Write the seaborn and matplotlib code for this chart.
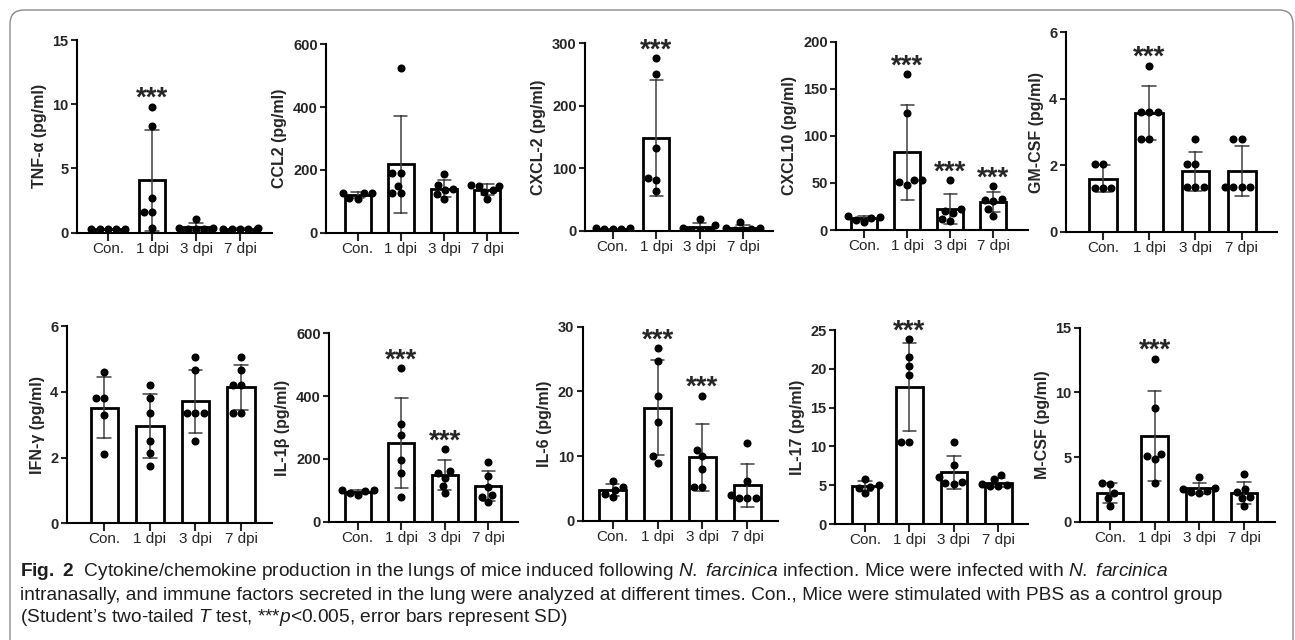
import warnings
warnings.filterwarnings("ignore")
import numpy as np
import pandas as pd
import matplotlib
matplotlib.use("Agg")
import matplotlib.pyplot as plt
from matplotlib import font_manager
from matplotlib.patches import FancyBboxPatch
from matplotlib.transforms import IdentityTransform
import seaborn as sns

# ---------------- data ----------------
groups = ["Con.", "1 dpi", "3 dpi", "7 dpi"]

tnf_a = [[0.30, 0.28, 0.30, 0.27, 0.30], [9.8, 8.3, 2.7, 1.6, 1.6, 0.4],
         [1.1, 0.40, 0.35, 0.30, 0.30, 0.25], [0.36, 0.32, 0.30, 0.30, 0.28, 0.30]]
ccl2 = [[127, 127, 125, 110, 108], [526, 190, 190, 149, 125, 125],
        [186, 152, 140, 136, 122, 106], [152, 150, 150, 135, 130, 106]]
cxcl2 = [[3, 4, 3, 4, 3], [277, 251, 133, 84, 81, 64],
         [19, 9, 5, 2, 2, 1], [14, 5, 4, 3, 2, 2]]
cxcl10 = [[15, 14, 13, 11, 9], [166, 124, 53, 53, 51, 48],
          [53, 22, 20, 18, 12, 10], [47, 33, 32, 31, 22, 15]]
gm_csf = [[2.05, 2.05, 1.3, 1.3, 1.3], [5.0, 3.6, 3.6, 3.6, 2.8, 2.8],
          [2.8, 2.05, 2.05, 1.35, 1.35, 1.35], [2.8, 2.8, 1.35, 1.35, 1.35, 1.35]]
ifn_g = [[4.6, 3.8, 3.8, 3.3, 2.1], [4.2, 3.8, 3.35, 2.5, 2.15, 1.75],
         [5.05, 4.65, 3.35, 3.35, 3.35, 2.5], [5.05, 4.65, 4.2, 4.2, 3.35, 3.35]]
il_1b = [[100, 100, 97, 92, 85], [490, 310, 276, 197, 154, 80],
         [232, 160, 155, 140, 115, 90], [190, 145, 112, 85, 80, 62]]
il_6 = [[6.1, 5.2, 4.8, 4.2, 3.6], [26.7, 24.7, 19.3, 15.2, 10.0, 9.0],
        [19.3, 11.0, 10.0, 8.0, 5.2, 5.2], [12.0, 6.2, 4.0, 3.5, 3.5, 3.5]]
il_17 = [[5.8, 5.0, 4.8, 4.7, 4.0], [23.8, 21.5, 20.3, 19.2, 10.6, 10.6],
         [10.6, 7.6, 6.0, 5.4, 5.3, 5.2], [6.3, 5.8, 5.1, 5.0, 4.9, 4.9]]
m_csf = [[3.0, 2.9, 2.2, 1.8, 1.2], [12.6, 8.8, 5.25, 5.1, 4.85, 3.0],
         [3.45, 2.6, 2.5, 2.4, 2.3, 2.2], [3.7, 2.5, 2.3, 1.9, 1.8, 1.2]]

panel_data = [tnf_a, ccl2, cxcl2, cxcl10, gm_csf, ifn_g, il_1b, il_6, il_17, m_csf]
y_labels = ["TNF-α (pg/ml)", "CCL2 (pg/ml)", "CXCL-2 (pg/ml)", "CXCL10 (pg/ml)",
            "GM-CSF (pg/ml)", "IFN-γ (pg/ml)", "IL-1β (pg/ml)", "IL-6 (pg/ml)",
            "IL-17 (pg/ml)", "M-CSF (pg/ml)"]
y_max = [15, 600, 300, 200, 6, 6, 600, 30, 25, 15]
y_step = [5, 200, 100, 50, 2, 2, 200, 10, 5, 5]
significance = [["", "***", "", ""], ["", "", "", ""], ["", "***", "", ""],
                ["", "***", "***", "***"], ["", "***", "", ""], ["", "", "", ""],
                ["", "***", "***", ""], ["", "***", "***", ""], ["", "***", "", ""],
                ["", "***", "", ""]]

caption_lines = [
    r"$\bf{Fig.\ 2}$  Cytokine/chemokine production in the lungs of mice induced following "
    r"$\it{N.\ farcinica}$ infection. Mice were infected with $\it{N.\ farcinica}$",
    "intranasally, and immune factors secreted in the lung were analyzed at different times. "
    "Con., Mice were stimulated with PBS as a control group",
    r"(Student’s two-tailed $\it{T}$ test, ***$\it{p}$<0.005, error bars represent SD)",
]

# ---------------- layout (pixels) ----------------
W, H = 1295, 640
# (axis left, axis right, top, bottom, first category centre, last category centre)
layout = [
    (77, 272, 40, 232.7, 108, 240),
    (326, 518, 44.3, 232.7, 357.7, 487.3),
    (585, 773, 43.3, 231, 612.7, 743),
    (836, 1028, 41.7, 230, 864, 993.3),
    (1065.7, 1277, 32.3, 231.7, 1103, 1241.7),
    (66.7, 271.7, 326, 523.3, 104.3, 241),
    (329, 518, 333.3, 521.7, 357.7, 488.3),
    (582.7, 778, 326.7, 520.7, 612.7, 747.3),
    (835, 1028, 330, 524, 865, 998.3),
    (1080, 1275, 327.7, 521.7, 1110, 1244),
]

sns.set_style("ticks")
names = {f.name for f in font_manager.fontManager.ttflist}
plot_font = "Liberation Sans" if "Liberation Sans" in names else "DejaVu Sans"
cap_font = "Liberation Sans Narrow" if "Liberation Sans Narrow" in names else plot_font
plt.rcParams["font.family"] = [plot_font, "DejaVu Sans"]
plt.rcParams["mathtext.fontset"] = "custom"
plt.rcParams["mathtext.rm"] = cap_font
plt.rcParams["mathtext.it"] = cap_font + ":italic"
plt.rcParams["mathtext.bf"] = cap_font + ":bold"

fig = plt.figure(figsize=(W / 100, H / 100), dpi=100)
fig.patch.set_facecolor("white")

star_fs = 20
for i, vals in enumerate(panel_data):
    L, R, top, bot, c0, c3 = layout[i]
    ax = fig.add_axes([L / W, 1 - bot / H, (R - L) / W, (bot - top) / H])
    df = pd.DataFrame({
        "group": [g for g, v in zip(groups, vals) for _ in v],
        "value": [x for v in vals for x in v],
    })
    sns.barplot(data=df, x="group", y="value", order=groups, ax=ax,
                errorbar="sd", capsize=0.3, width=0.6, color="white",
                saturation=1, edgecolor="black", linewidth=2.0,
                err_kws={"color": "#404040", "linewidth": 1.1})
    sns.swarmplot(data=df, x="group", y="value", order=groups, ax=ax,
                  color="black", size=5.8, linewidth=0, zorder=4)
    s = (c3 - c0) / 3
    ax.set_xlim(-(c0 - L) / s, 3 + (R - c3) / s)
    ax.set_ylim(0, y_max[i])
    ax.set_yticks(np.arange(0, y_max[i] + y_step[i] / 2, y_step[i]))
    ax.set_xlabel("")
    ax.set_ylabel(y_labels[i], fontsize=11.5, fontweight="bold", labelpad=4)
    for sp in ["top", "right"]:
        ax.spines[sp].set_visible(False)
    for sp in ["left", "bottom"]:
        ax.spines[sp].set_linewidth(1.5)
        ax.spines[sp].set_color("black")
    ax.tick_params(axis="y", direction="out", length=4, width=1.5, labelsize=10.5, pad=2)
    ax.tick_params(axis="x", direction="out", length=5.5, width=1.5, labelsize=11, pad=1)
    for lbl in ax.get_yticklabels():
        lbl.set_fontweight("bold")
    ax.patch.set_alpha(0)
    for j, g in enumerate(groups):
        if significance[i][j]:
            ytxt = max(vals[j]) + 0.083 * y_max[i]
            ax.annotate(significance[i][j], xy=(j, ytxt), xytext=(0, -0.55 * star_fs),
                        textcoords="offset points", ha="center", va="baseline",
                        fontsize=star_fs, fontweight="bold", annotation_clip=False)

# rounded frame
frame = FancyBboxPatch((10, -20), 1283, H - 10 + 20,
                       boxstyle="round,pad=0,rounding_size=14",
                       transform=IdentityTransform(), facecolor="none",
                       edgecolor="#8a8a8a", linewidth=1.0)
fig.patches.append(frame)

# caption
cap_y = [572, 596, 618]
texts = []
fs = 12
for line, y in zip(caption_lines, cap_y):
    t = fig.text(20 / W, 1 - y / H, line, ha="left", va="center", fontsize=fs,
                 family=[cap_font, "DejaVu Sans"], color="#1e1e1e")
    texts.append(t)
fig.canvas.draw()
r = fig.canvas.get_renderer()
w = texts[1].get_window_extent(r).width
fs_new = fs * (1225 - 20) / w
for t in texts:
    t.set_fontsize(fs_new)

fig.savefig("out.png", dpi=100, facecolor="white")
